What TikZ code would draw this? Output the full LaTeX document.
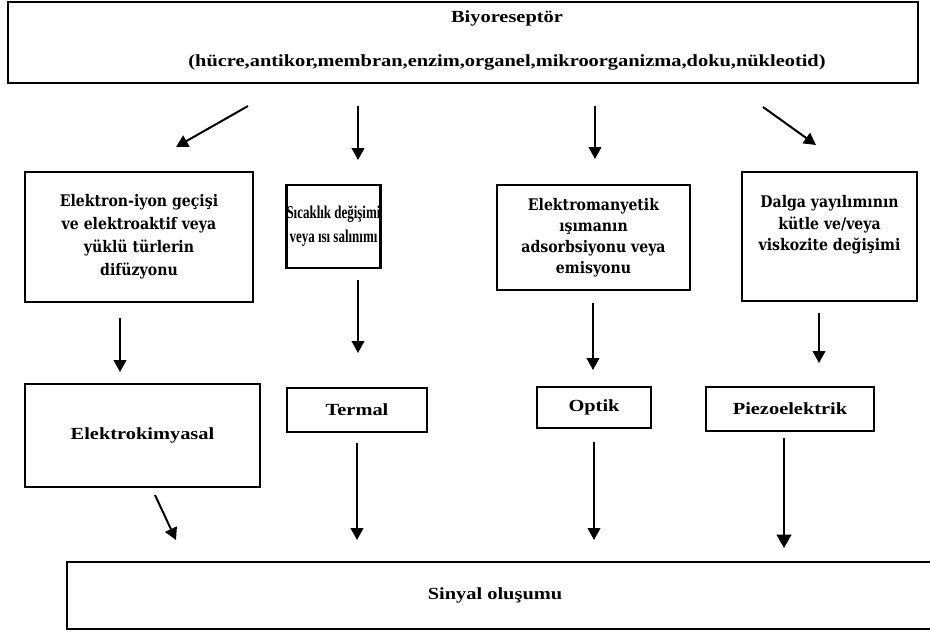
\documentclass[tikz,border=0pt]{standalone}
\usepackage{fontspec}
\setmainfont{Liberation Serif}
\newfontfamily\widefont[FakeStretch=1.2]{Liberation Serif}
\newfontfamily\narrowfont[FakeStretch=0.72]{Liberation Serif}
\newfontfamily\midfont[FakeStretch=0.88]{DejaVu Serif}
\usetikzlibrary{arrows.meta}

\tikzset{every picture/.style={line width=0.75pt}}
\tikzset{
  box/.style={draw, line width=1.8pt, inner sep=0pt, align=center},
  arr/.style={line width=1.5pt, -{Triangle[length=9pt,width=9.5pt]}},
  widetxt/.style={font=\widefont\bfseries\fontsize{12.75}{15.5}\selectfont},
}

\begin{document}
\begin{tikzpicture}[x=0.75pt,y=0.75pt,yscale=-1,xscale=1]
\useasboundingbox (0,0) rectangle (930,632);
\clip (0,0) rectangle (930,632);

%Top box
\node [box, line width=2pt, minimum width=682.5pt, minimum height=60.75pt] (bio) at (463,42.5) {};
\node [align=center, font=\widefont\bfseries\fontsize{12.75}{33}\selectfont] (bioT) at (507,40)
  {Biyoreseptör\\(hücre,antikor,membran,enzim,organel,mikroorganizma,doku,nükleotid)};

%Middle boxes
\node [box, minimum width=171pt, minimum height=97.5pt, font=\midfont\bfseries\fontsize{12}{17.25}\selectfont] (elek) at (139,237)
  {Elektron-iyon geçişi\\ve elektroaktif veya\\yüklü türlerin\\difüzyonu};
\node [box, minimum width=69.75pt, minimum height=62.25pt, font=\narrowfont\bfseries\fontsize{13.5}{18}\selectfont] (sic) at (333.5,226.5)
  {Sıcaklık değişimi\\veya ısı salınımı};
\node [box, minimum width=144.75pt, minimum height=78.75pt, font=\midfont\bfseries\fontsize{12}{15.75}\selectfont] (emg) at (593.5,237.5)
  {Elektromanyetik\\ışımanın\\adsorbsiyonu veya\\emisyonu};
\node [box, minimum width=131.25pt, minimum height=96.75pt] (dal) at (829.5,236.5) {};
\node [align=center, font=\midfont\bfseries\fontsize{12}{16}\selectfont] (dalT) at (829.5,225)
  {Dalga yayılımının\\kütle ve/veya\\viskozite değişimi};

%Lower boxes
\node [box, widetxt, minimum width=176.25pt, minimum height=77.25pt] (ekim) at (142.5,435.5) {Elektrokimyasal};
\node [box, widetxt, minimum width=105pt, minimum height=33pt] (term) at (357,410) {Termal};
\node [box, widetxt, minimum width=85.5pt, minimum height=30.75pt] (opt) at (594,407.5) {Optik};
\node [box, widetxt, minimum width=126pt, minimum height=33pt] (pie) at (790,409) {Piezoelektrik};

%Bottom box
\node [box, line width=2pt, minimum width=658.5pt, minimum height=50.25pt] (sin) at (506,595.5) {};
\node [widetxt] (sinT) at (495,595) {Sinyal oluşumu};

%Arrow ends
\coordinate (a1) at (248,106);  \coordinate (a1e) at (176,147);
\coordinate (a2) at (358,106);  \coordinate (a2e) at (358,160);
\coordinate (a3) at (595,106);  \coordinate (a3e) at (595,159);
\coordinate (a4) at (763,107);  \coordinate (a4e) at (816,145);
\coordinate (b1) at (120,318);  \coordinate (b1e) at (120,372);
\coordinate (b2) at (358,280);  \coordinate (b2e) at (358,353);
\coordinate (b3) at (593,303);  \coordinate (b3e) at (593,370);
\coordinate (b4) at (819,313);  \coordinate (b4e) at (819,363);
\coordinate (c1) at (155,495);  \coordinate (c1e) at (176,540);
\coordinate (c2) at (357,443);  \coordinate (c2e) at (357,540);
\coordinate (c3) at (594,442);  \coordinate (c3e) at (594,540);
\coordinate (c4) at (784,438);  \coordinate (c4e) at (784,548);

%Arrows
\draw [arr] (a1) -- (a1e);
\draw [arr] (a2) -- (a2e);
\draw [arr] (a3) -- (a3e);
\draw [arr] (a4) -- (a4e);
\draw [arr] (b1) -- (b1e);
\draw [arr] (b2) -- (b2e);
\draw [arr] (b3) -- (b3e);
\draw [arr] (b4) -- (b4e);
\draw [arr] (c1) -- (c1e);
\draw [arr] (c2) -- (c2e);
\draw [arr] (c3) -- (c3e);
\draw [arr, -{Triangle[length=10pt,width=11pt]}] (c4) -- (c4e);

\end{tikzpicture}
\end{document}
